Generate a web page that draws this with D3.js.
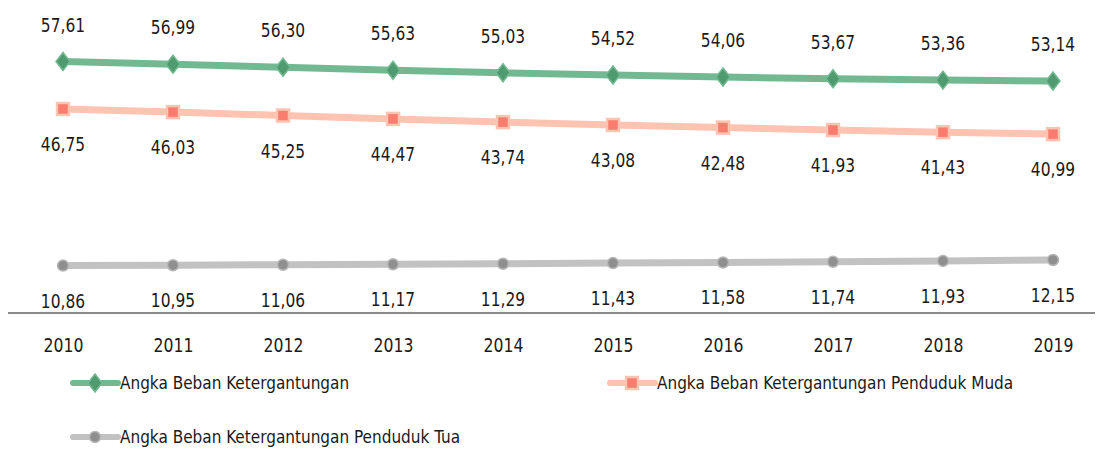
<!DOCTYPE html>
<html><head><meta charset="utf-8">
<script src="https://cdn.jsdelivr.net/npm/d3@7"></script>
<style>
body{margin:0;background:#fff;}
text{font-family:"DejaVu Sans Condensed","DejaVu Sans",sans-serif;fill:#1a1a1a;}
</style></head><body>
<svg id="c" width="1097" height="449"></svg>
<script>
const years = ["2010","2011","2012","2013","2014","2015","2016","2017","2018","2019"];
const total = [57.61,56.99,56.30,55.63,55.03,54.52,54.06,53.67,53.36,53.14];
const young = [46.75,46.03,45.25,44.47,43.74,43.08,42.48,41.93,41.43,40.99];
const old   = [10.86,10.95,11.06,11.17,11.29,11.43,11.58,11.74,11.93,12.15];
const seriesNames = ["Angka Beban Ketergantungan","Angka Beban Ketergantungan Penduduk Muda","Angka Beban Ketergantungan Penduduk Tua"];

const svg = d3.select("#c");
const x = d3.scalePoint().domain(years).range([63,1053]);
const y = d3.scaleLinear().domain([0,70]).range([313,7.5]);

const series = [
  {name:seriesNames[0], values:total, line:"#72b992", mark:"#4f9a6f", stroke:"#72b992", shape:"diamond", lab:-30},
  {name:seriesNames[1], values:young, line:"#fec3b1", mark:"#f97c6e", stroke:"#fec3b1", shape:"square", lab:42},
  {name:seriesNames[2], values:old,   line:"#c2c2c2", mark:"#8f8f8f", stroke:"#b8b8b8", shape:"circle", lab:42}
];

function drawMarker(g, shape, fill, stroke){
  if(shape==="diamond"){
    g.append("path").attr("d","M0,-9L7,0L0,9L-7,0Z").attr("fill",fill).attr("stroke",stroke).attr("stroke-width",1.5);
  } else if(shape==="square"){
    g.append("rect").attr("x",-6).attr("y",-6).attr("width",12).attr("height",12).attr("fill",fill).attr("stroke",stroke).attr("stroke-width",2.5);
  } else {
    g.append("circle").attr("r",5.5).attr("fill",fill).attr("stroke",stroke).attr("stroke-width",1.5);
  }
}

// axis
const axis = d3.axisBottom(x).tickSize(0).tickPadding(0);
const ax = svg.append("g").attr("transform","translate(0,313)").call(axis);
ax.select(".domain").remove();
ax.selectAll("text").attr("font-size",20).attr("fill","#1a1a1a").attr("dy",null).attr("y",39)
  .attr("transform","scale(0.87,1)")
  .style("font-family",'"DejaVu Sans Condensed","DejaVu Sans",sans-serif');
svg.append("line").attr("x1",8).attr("x2",1095).attr("y1",y(0)).attr("y2",y(0))
  .attr("stroke","#8a8a8a").attr("stroke-width",2);

const line = d3.line().x((d,i)=>x(years[i])).y(d=>y(d));
series.forEach(s=>{
  svg.append("path").datum(s.values).attr("d",line).attr("fill","none")
    .attr("stroke",s.line).attr("stroke-width",7).attr("stroke-linecap","round");
  s.values.forEach((v,i)=>{
    const g = svg.append("g").attr("transform",`translate(${x(years[i])},${y(v)})`);
    drawMarker(g, s.shape, s.mark, s.stroke);
    svg.append("g").attr("transform",`translate(${x(years[i])},${y(v)+s.lab}) scale(0.86,1)`)
      .append("text").attr("text-anchor","middle").attr("font-size",20)
      .text(v.toFixed(2).replace(".",","));
  });
});

// legend
const legPos = [[73,383],[610,383],[73,437]];
series.forEach((s,i)=>{
  const [lx,ly] = legPos[i];
  const g = svg.append("g").attr("transform",`translate(${lx},${ly})`);
  g.append("line").attr("x1",0).attr("x2",45).attr("y1",0).attr("y2",0).attr("stroke",s.line).attr("stroke-width",6).attr("stroke-linecap","round");
  const m = g.append("g").attr("transform","translate(22,0)");
  drawMarker(m, s.shape, s.mark, s.stroke);
  g.append("text").attr("x",47).attr("y",6).attr("font-size",17).text(s.name);
});
</script></body></html>
